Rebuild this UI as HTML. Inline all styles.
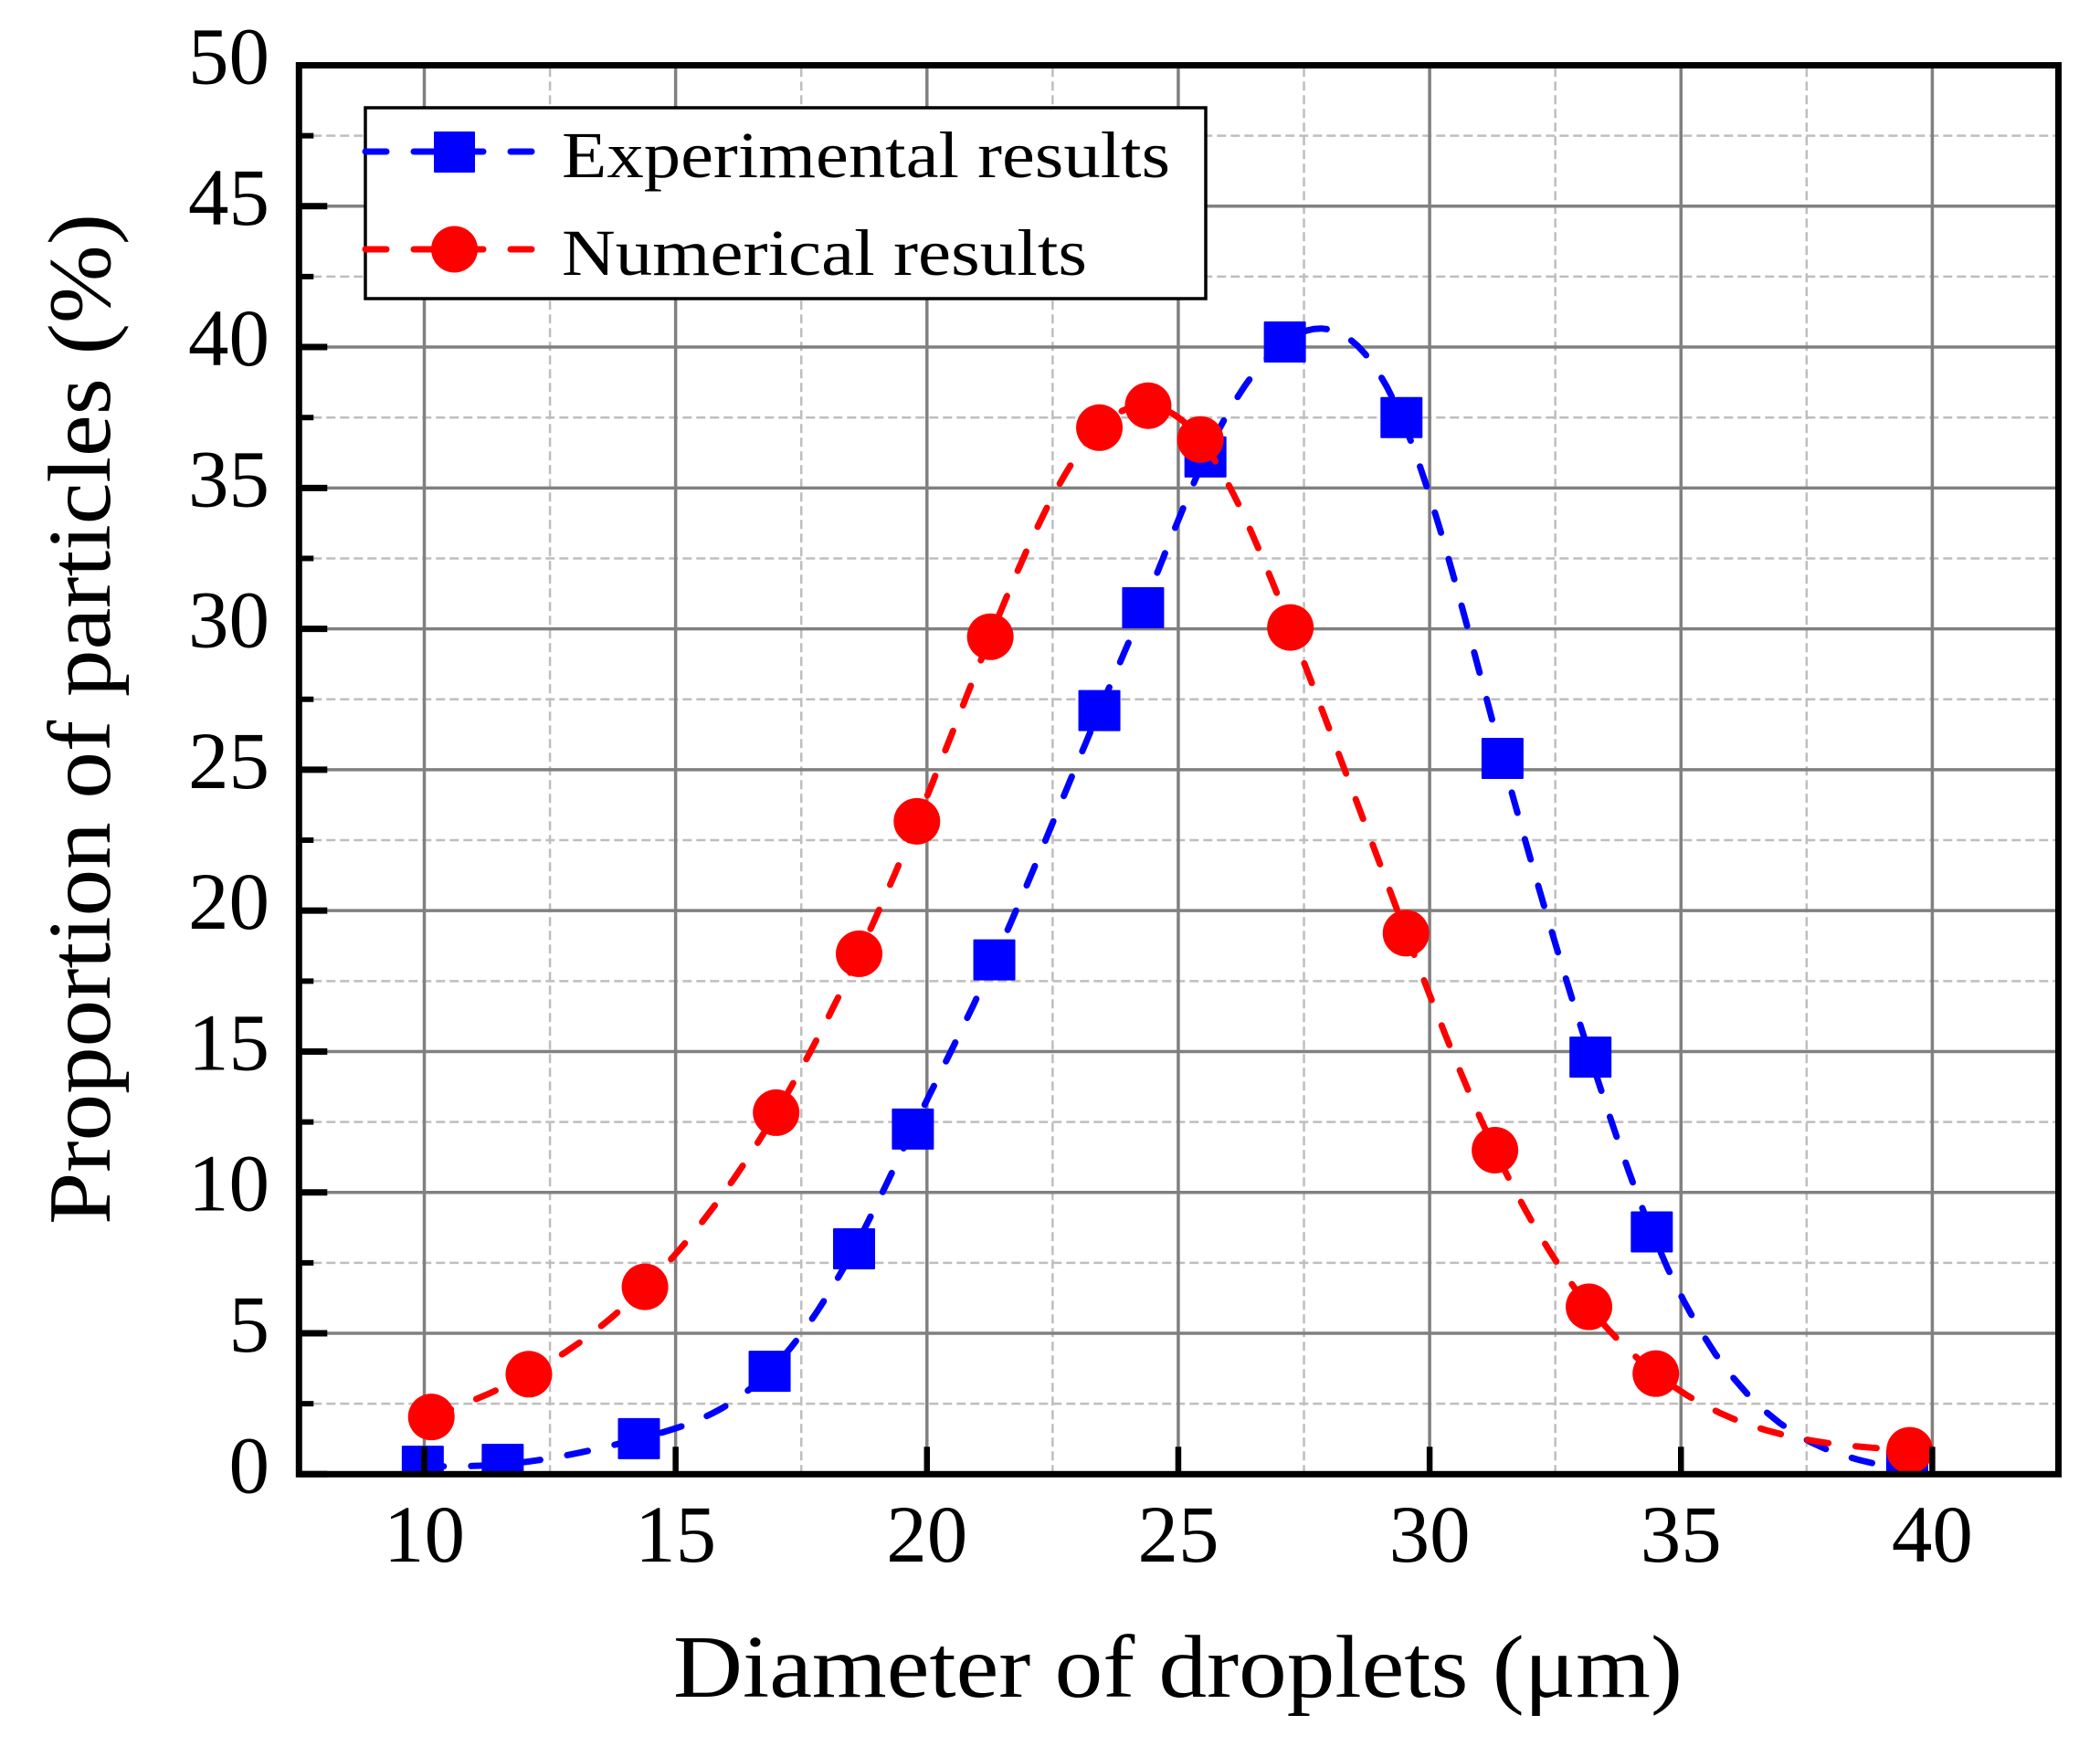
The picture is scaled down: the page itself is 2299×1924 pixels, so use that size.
<!DOCTYPE html>
<html lang="en">
<head>
<meta charset="utf-8">
<title>Droplet diameter distribution</title>
<style>
html,body{margin:0;padding:0;background:#fff;width:2299px;height:1924px;overflow:hidden}
svg{display:block}
text{font-family:"Liberation Serif",serif;fill:#000}
</style>
</head>
<body>
<svg id="chart" xmlns="http://www.w3.org/2000/svg" width="2299" height="1924" viewBox="0 0 2299 1924">
  <defs><clipPath id="plot-clip"><rect x="327.3" y="71.5" width="1926.2" height="1542.8"/></clipPath></defs>
  <g id="grid"></g>
  <g id="series" clip-path="url(#plot-clip)"></g>
  <g id="ticks"></g>
  <rect x="327.3" y="71.5" width="1926.2" height="1542.8" fill="none" stroke="#000" stroke-width="7"/>
  <g id="tick-labels"></g>
  <text x="737" y="1858" font-size="98" textLength="1105" lengthAdjust="spacingAndGlyphs">Diameter of droplets (μm)</text>
  <text transform="translate(120,1341) rotate(-90)" x="0" y="0" font-size="98" textLength="1107" lengthAdjust="spacingAndGlyphs">Proportion of particles (%)</text>
  <g>
    <rect x="400" y="118" width="920" height="209" fill="#fff" stroke="#000" stroke-width="3.5"/>
    <line x1="400" y1="166" x2="590" y2="166" stroke="#0000ff" stroke-width="7" stroke-linecap="round" stroke-dasharray="23 30"/>
    <rect x="475" y="144" width="45" height="45" rx="1" fill="#0000ff"/>
    <text x="615" y="194" font-size="72" textLength="666" lengthAdjust="spacingAndGlyphs">Experimental results</text>
    <line x1="400" y1="273" x2="590" y2="273" stroke="#ff0000" stroke-width="7" stroke-linecap="round" stroke-dasharray="23 30"/>
    <circle cx="497.5" cy="273" r="25.5" fill="#ff0000"/>
    <text x="615" y="301" font-size="72" textLength="575" lengthAdjust="spacingAndGlyphs">Numerical results</text>
  </g>
</svg>
<script>
const xTickLabels = [10, 15, 20, 25, 30, 35, 40];
const yTickLabels = [0, 5, 10, 15, 20, 25, 30, 35, 40, 45, 50];
const xMinorTicks = [12.5, 17.5, 22.5, 27.5, 32.5, 37.5];
const yMinorTicks = [2.5, 7.5, 12.5, 17.5, 22.5, 27.5, 32.5, 37.5, 42.5, 47.5];
const experimentalX = [9.97, 11.56, 14.27, 16.87, 18.55, 19.72, 21.34, 23.43, 24.3, 25.54, 27.12, 29.44, 31.45, 33.2, 34.42, 39.5];
const experimentalY = [0.28, 0.35, 1.26, 3.65, 8.0, 12.25, 18.25, 27.1, 30.75, 36.1, 40.18, 37.5, 25.4, 14.8, 8.6, 0.15];
const numericalX = [10.14, 12.08, 14.39, 17.0, 18.65, 19.8, 21.26, 23.43, 24.4, 25.44, 27.23, 29.53, 31.3, 33.17, 34.5, 39.55];
const numericalY = [2.03, 3.55, 6.65, 12.83, 18.47, 23.17, 29.72, 37.14, 37.92, 36.72, 30.05, 19.2, 11.5, 5.94, 3.57, 0.85];

const NS = 'http://www.w3.org/2000/svg';
const xScale = v => 464.5 + (v - 10) * 55.03;
const yScale = v => 1614.3 - v * 30.856;
const PLOT_LEFT = 327.3, PLOT_RIGHT = 2253.5, PLOT_TOP = 71.5, PLOT_BOTTOM = 1614.3;

function make(tag, attrs, parent, txt) {
  const el = document.createElementNS(NS, tag);
  for (const k in attrs) el.setAttribute(k, attrs[k]);
  if (txt !== undefined) el.textContent = txt;
  parent.appendChild(el);
  return el;
}

// Natural cubic spline through the data points
function spline(xs, ys) {
  const n = xs.length, c = new Array(n).fill(0), d = new Array(n).fill(0), m = new Array(n).fill(0);
  for (let i = 1; i < n - 1; i++) {
    const h0 = xs[i] - xs[i - 1], h1 = xs[i + 1] - xs[i];
    const r = 6 * ((ys[i + 1] - ys[i]) / h1 - (ys[i] - ys[i - 1]) / h0);
    const b = 2 * (h0 + h1) - h0 * c[i - 1];
    c[i] = h1 / b;
    d[i] = (r - h0 * d[i - 1]) / b;
  }
  for (let i = n - 2; i > 0; i--) m[i] = d[i] - c[i] * m[i + 1];
  let path = '';
  for (let i = 0; i < n - 1; i++) {
    const h = xs[i + 1] - xs[i];
    for (let s = 0; s < 16; s++) {
      const t = s / 16, x = xs[i] + t * h, A = 1 - t, B = t;
      const y = A * ys[i] + B * ys[i + 1] + ((A * A * A - A) * m[i] + (B * B * B - B) * m[i + 1]) * h * h / 6;
      path += (path ? 'L' : 'M') + xScale(x).toFixed(1) + ' ' + yScale(y).toFixed(1);
    }
  }
  path += 'L' + xScale(xs[n - 1]).toFixed(1) + ' ' + yScale(ys[n - 1]).toFixed(1);
  return path;
}

const grid = document.getElementById('grid');
const ticks = document.getElementById('ticks');
const labels = document.getElementById('tick-labels');
const series = document.getElementById('series');

xMinorTicks.forEach(v => {
  const el = make('line', {x1: xScale(v), x2: xScale(v), y1: PLOT_BOTTOM, y2: PLOT_TOP, stroke: '#bebebe', 'stroke-width': 2.5, 'stroke-dasharray': '10 5'}, grid);
  
  
});
yMinorTicks.forEach(v => {
  const el = make('line', {x1: PLOT_LEFT, x2: PLOT_RIGHT, y1: yScale(v), y2: yScale(v), stroke: '#bebebe', 'stroke-width': 2.5, 'stroke-dasharray': '10 5'}, grid);
  
  
  const t = make('line', {x1: PLOT_LEFT, x2: PLOT_LEFT + 16, y1: yScale(v), y2: yScale(v), stroke: '#000', 'stroke-width': 6}, ticks);
  
  
});
xTickLabels.forEach(v => {
  const el = make('line', {x1: xScale(v), x2: xScale(v), y1: PLOT_BOTTOM, y2: PLOT_TOP, stroke: '#808080', 'stroke-width': 3.5}, grid);
  
  
  const t = make('line', {x1: xScale(v), x2: xScale(v), y1: PLOT_BOTTOM, y2: PLOT_BOTTOM - 30, stroke: '#000', 'stroke-width': 6.5}, ticks);
  
  
  const l = make('text', {x: xScale(v), y: 1710, 'font-size': 89, 'text-anchor': 'middle'}, labels, String(v));
  
  
});
yTickLabels.forEach(v => {
  const el = make('line', {x1: PLOT_LEFT, x2: PLOT_RIGHT, y1: yScale(v), y2: yScale(v), stroke: '#808080', 'stroke-width': 3.5}, grid);
  
  
  const t = make('line', {x1: PLOT_LEFT, x2: PLOT_LEFT + 31, y1: yScale(v), y2: yScale(v), stroke: '#000', 'stroke-width': 7}, ticks);
  
  
  const l = make('text', {x: 295, y: yScale(v) + 20, 'font-size': 89, 'text-anchor': 'end'}, labels, String(v));
  
  
});

const expLine = make('path', {d: spline(experimentalX, experimentalY), fill: 'none', stroke: '#0000ff', 'stroke-width': 7, 'stroke-linecap': 'round', 'stroke-dasharray': '23 30'}, series);


experimentalX.forEach((x, i) => {
  const el = make('rect', {x: xScale(x) - 23, y: yScale(experimentalY[i]) - 22.5, width: 46, height: 45, rx: 1, fill: '#0000ff'}, series);
  
  
});
const numLine = make('path', {d: spline(numericalX, numericalY), fill: 'none', stroke: '#ff0000', 'stroke-width': 7, 'stroke-linecap': 'round', 'stroke-dasharray': '23 30'}, series);


numericalX.forEach((x, i) => {
  const el = make('circle', {cx: xScale(x), cy: yScale(numericalY[i]), r: 25.5, fill: '#ff0000'}, series);
  
  
});
</script>
</body>
</html>
